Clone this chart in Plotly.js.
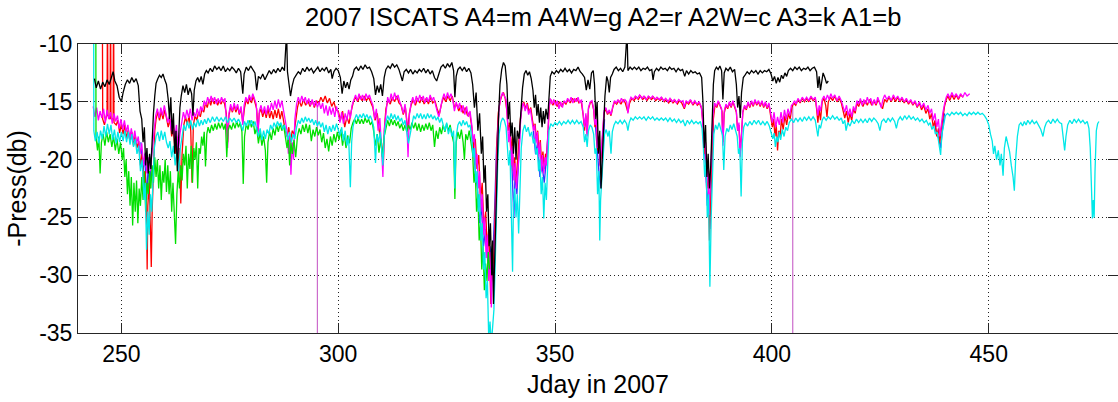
<!DOCTYPE html>
<html><head><meta charset="utf-8">
<script src="https://cdn.plot.ly/plotly-3.0.1.min.js"></script>
<style>html,body{margin:0;padding:0;background:#fff;overflow:hidden}#chart{width:1118px;height:402px}</style>
</head><body><div id="chart"></div>
<script>
const chartTitle = "2007 ISCATS A4=m A4W=g A2=r A2W=c A3=k A1=b";
const xLabel = "Jday in 2007";
const yLabel = "-Press(db)";
const xTicks = [250, 300, 350, 400, 450];
const yTicks = [-35, -30, -25, -20, -15, -10];

// A3 (black) [day, -press]
const A3 = [[243.8,-13.0],[244.2,-13.8],[244.7,-13.2],[245.2,-13.9],[245.7,-13.3],[246.2,-13.7],[246.7,-13.1],[247.2,-13.5],[247.7,-12.9],[248.1,-12.4],[248.5,-13.2],[249.0,-13.6],[249.5,-14.6],[250.0,-15.0],[250.4,-14.2],[250.9,-13.5],[251.4,-13.1],[251.9,-13.4],[252.4,-12.9],[252.9,-13.3],[253.4,-13.0],[253.9,-13.6],[254.3,-15.8],[254.7,-16.5],[255.0,-18.5],[255.3,-17.2],[255.6,-20.5],[255.9,-19.0],[256.2,-21.2],[256.5,-19.5],[256.8,-20.8],[257.1,-18.0],[257.4,-16.0],[257.7,-14.5],[258.0,-13.4],[258.4,-13.0],[258.8,-12.7],[259.2,-12.9],[259.6,-12.6],[260.0,-13.1],[260.4,-13.5],[260.8,-14.8],[261.1,-16.5],[261.4,-14.6],[261.7,-17.8],[262.0,-16.0],[262.3,-19.5],[262.6,-17.5],[262.9,-21.0],[263.2,-18.2],[263.5,-15.5],[263.8,-14.5],[264.2,-13.6],[264.6,-14.2],[265.0,-13.5],[265.4,-14.4],[265.8,-13.8],[266.2,-14.3],[266.5,-16.2],[266.8,-14.0],[267.2,-13.2],[267.6,-12.9],[268.0,-13.3],[268.4,-12.8],[268.8,-13.5],[269.2,-12.6],[269.6,-12.3],[270.0,-12.5],[270.5,-12.1],[271.0,-12.4],[271.5,-11.9],[272.0,-12.2],[272.5,-12.0],[273.0,-12.3],[273.5,-11.9],[274.0,-12.4],[274.5,-12.1],[275.0,-12.3],[275.5,-12.0],[276.0,-12.2],[276.5,-12.5],[277.0,-12.1],[277.5,-12.4],[278.0,-14.3],[278.3,-12.6],[278.8,-12.0],[279.3,-12.3],[279.8,-11.9],[280.3,-12.2],[280.8,-12.5],[281.2,-14.0],[281.6,-12.8],[282.1,-13.0],[282.6,-12.6],[283.1,-13.1],[283.6,-12.7],[284.1,-12.3],[284.6,-12.6],[285.1,-12.2],[285.6,-12.5],[286.1,-12.1],[286.6,-12.4],[287.1,-12.0],[287.6,-12.3],[288.1,-9.0],[288.3,-12.4],[288.7,-13.5],[289.0,-14.5],[289.4,-13.6],[289.8,-13.0],[290.3,-12.7],[290.8,-12.4],[291.3,-12.6],[291.8,-12.1],[292.3,-12.4],[292.8,-12.0],[293.3,-12.3],[293.8,-12.1],[294.3,-12.5],[294.8,-12.2],[295.3,-12.0],[295.8,-12.4],[296.3,-12.1],[296.8,-12.3],[297.3,-12.0],[297.8,-12.5],[298.3,-12.2],[298.6,-13.0],[299.0,-12.4],[299.5,-12.1],[300.0,-12.3],[300.5,-12.9],[300.9,-14.3],[301.3,-13.2],[301.7,-13.8],[302.1,-13.3],[302.5,-13.9],[302.9,-13.1],[303.3,-12.8],[303.7,-12.2],[304.2,-12.0],[304.7,-12.3],[305.2,-11.9],[305.7,-12.2],[306.2,-11.8],[306.7,-12.1],[307.2,-12.0],[307.7,-12.4],[308.2,-13.0],[308.6,-14.4],[309.0,-13.6],[309.4,-14.2],[309.8,-13.5],[310.2,-14.5],[310.6,-12.9],[311.0,-12.2],[311.5,-11.9],[312.0,-12.1],[312.5,-11.7],[313.0,-12.0],[313.5,-11.8],[314.0,-12.2],[314.4,-12.8],[314.8,-13.2],[315.2,-12.4],[315.7,-12.2],[316.2,-12.5],[316.7,-12.2],[317.2,-12.6],[317.7,-12.3],[318.2,-12.5],[318.7,-12.2],[319.2,-12.4],[319.7,-12.1],[320.2,-12.5],[320.7,-12.2],[321.2,-12.6],[321.7,-12.3],[322.2,-12.9],[322.7,-13.2],[323.2,-12.6],[323.7,-12.0],[324.2,-11.8],[324.7,-12.1],[325.2,-11.7],[325.7,-12.0],[326.2,-11.6],[326.6,-12.3],[326.9,-14.6],[327.2,-12.8],[327.6,-12.2],[328.1,-12.0],[328.6,-12.3],[329.1,-12.0],[329.6,-12.4],[330.1,-12.1],[330.6,-12.5],[331.0,-13.5],[331.4,-15.5],[331.8,-14.2],[332.2,-17.5],[332.6,-16.0],[333.0,-19.5],[333.3,-18.0],[333.6,-22.0],[333.9,-20.5],[334.2,-24.5],[334.5,-23.0],[334.8,-27.5],[335.1,-25.5],[335.4,-30.0],[335.6,-27.0],[335.8,-32.5],[336.1,-28.0],[336.4,-24.0],[336.7,-19.0],[337.0,-16.0],[337.3,-13.5],[337.7,-12.2],[338.1,-11.6],[338.5,-11.9],[338.9,-13.5],[339.2,-16.5],[339.5,-15.0],[339.8,-18.0],[340.1,-16.8],[340.4,-19.5],[340.7,-17.2],[341.0,-20.0],[341.3,-17.5],[341.7,-18.2],[342.1,-16.0],[342.5,-13.8],[342.9,-12.6],[343.3,-12.3],[343.7,-12.7],[344.1,-12.4],[344.5,-13.0],[344.9,-14.0],[345.2,-15.5],[345.5,-14.4],[345.8,-16.2],[346.1,-15.2],[346.4,-16.8],[346.7,-15.5],[347.0,-17.2],[347.3,-15.8],[347.6,-16.9],[347.9,-15.6],[348.3,-16.5],[348.6,-14.5],[348.9,-12.8],[349.3,-12.4],[349.8,-12.6],[350.3,-12.3],[350.8,-12.5],[351.3,-12.2],[351.8,-12.4],[352.3,-12.1],[352.8,-12.4],[353.3,-12.2],[353.8,-12.5],[354.3,-12.2],[354.8,-12.3],[355.3,-12.0],[355.8,-12.4],[356.3,-12.6],[356.8,-12.9],[357.2,-14.0],[357.6,-13.1],[358.0,-13.9],[358.4,-12.5],[358.8,-12.3],[359.1,-13.5],[359.4,-16.5],[359.7,-15.0],[360.0,-19.5],[360.3,-17.5],[360.6,-22.5],[360.9,-20.0],[361.2,-18.0],[361.5,-14.5],[361.9,-12.8],[362.2,-13.2],[362.5,-14.2],[362.8,-12.9],[363.2,-12.6],[363.6,-12.2],[364.1,-12.0],[364.6,-12.3],[365.1,-12.1],[365.6,-12.4],[366.1,-12.0],[366.6,-9.0],[366.8,-12.3],[367.3,-12.0],[367.8,-12.2],[368.3,-12.0],[368.8,-12.2],[369.3,-12.0],[369.8,-12.3],[370.3,-12.1],[370.8,-12.2],[371.3,-12.0],[371.8,-12.3],[372.3,-12.2],[372.6,-13.1],[372.9,-12.4],[373.4,-12.1],[373.9,-12.3],[374.4,-12.0],[374.9,-12.2],[375.4,-12.1],[375.9,-12.3],[376.4,-12.0],[376.9,-12.2],[377.4,-12.1],[377.9,-12.4],[378.4,-12.1],[378.9,-12.3],[379.4,-12.2],[379.9,-12.8],[380.3,-12.3],[380.8,-12.6],[381.3,-12.3],[381.8,-12.5],[382.3,-12.4],[382.8,-12.6],[383.3,-12.5],[383.8,-12.9],[384.1,-15.0],[384.4,-19.0],[384.7,-17.0],[385.0,-21.5],[385.3,-19.5],[385.6,-22.5],[385.9,-20.5],[386.2,-17.5],[386.5,-13.5],[386.8,-12.3],[387.2,-12.0],[387.6,-12.2],[388.0,-11.9],[388.4,-12.3],[388.7,-14.8],[389.0,-12.5],[389.4,-12.1],[389.9,-12.3],[390.4,-12.0],[390.9,-12.4],[391.4,-12.2],[391.8,-13.5],[392.1,-15.5],[392.4,-14.5],[392.7,-16.4],[393.0,-14.2],[393.4,-12.9],[393.8,-12.7],[394.3,-12.4],[394.8,-12.6],[395.3,-12.3],[395.8,-12.5],[396.3,-12.3],[396.8,-12.6],[397.3,-12.3],[397.8,-12.5],[398.3,-12.3],[398.8,-12.4],[399.3,-12.2],[399.8,-12.6],[400.2,-13.2],[400.6,-12.8],[401.0,-13.4],[401.4,-12.9],[401.8,-13.3],[402.2,-12.7],[402.6,-13.0],[403.0,-12.5],[403.4,-12.8],[403.8,-12.3],[404.3,-12.1],[404.8,-12.3],[405.3,-12.0],[405.8,-12.2],[406.3,-12.0],[406.8,-12.3],[407.3,-12.1],[407.8,-12.2],[408.3,-12.0],[408.8,-12.3],[409.3,-12.1],[409.8,-12.0],[410.3,-12.4],[410.6,-13.8],[410.9,-12.8],[411.2,-14.0],[411.5,-13.0],[411.8,-12.5],[412.2,-12.9],[412.6,-13.4],[413.0,-13.2]];

// A4 (magenta)
const A4 = [[243.5,-15.4],[243.9,-16.3],[244.3,-15.5],[244.7,-16.6],[245.1,-15.8],[245.5,-16.4],[245.9,-15.6],[246.3,-16.8],[246.7,-15.7],[247.1,-16.5],[247.5,-15.9],[247.9,-16.9],[248.3,-16.0],[248.7,-16.7],[249.1,-16.2],[249.5,-17.3],[249.9,-16.5],[250.3,-17.4],[250.7,-16.6],[251.1,-17.6],[251.5,-17.0],[251.9,-18.2],[252.3,-17.3],[252.7,-18.4],[253.1,-17.5],[253.5,-18.6],[253.9,-18.0],[254.3,-19.5],[254.7,-18.6],[255.1,-20.5],[255.5,-19.4],[255.9,-21.2],[256.3,-19.8],[256.7,-21.0],[257.1,-19.2],[257.5,-17.5],[257.9,-16.2],[258.3,-15.6],[258.7,-16.4],[259.1,-15.5],[259.5,-16.2],[259.9,-15.3],[260.3,-16.0],[260.7,-16.8],[261.1,-16.2],[261.5,-17.5],[261.9,-16.6],[262.3,-18.2],[262.7,-17.0],[263.1,-19.5],[263.5,-17.8],[263.9,-16.9],[264.3,-15.9],[264.7,-16.5],[265.1,-15.7],[265.5,-16.4],[265.9,-15.6],[266.3,-16.6],[266.7,-15.9],[267.1,-16.3],[267.5,-15.6],[267.9,-16.2],[268.3,-15.4],[268.7,-15.8],[269.1,-14.9],[269.5,-15.3],[269.9,-14.6],[270.3,-15.1],[270.7,-14.5],[271.1,-15.0],[271.5,-14.6],[271.9,-15.2],[272.3,-14.7],[272.7,-15.1],[273.1,-14.6],[273.5,-15.0],[273.9,-14.7],[274.2,-16.5],[274.5,-19.0],[274.8,-16.0],[275.2,-15.2],[275.6,-15.8],[276.0,-15.1],[276.4,-15.7],[276.8,-15.2],[277.2,-16.0],[277.6,-15.4],[278.0,-17.0],[278.3,-15.3],[278.7,-14.6],[279.1,-15.0],[279.5,-14.4],[279.9,-14.9],[280.3,-14.3],[280.7,-14.8],[281.1,-15.2],[281.5,-18.0],[281.8,-15.8],[282.2,-15.3],[282.6,-16.0],[283.0,-15.4],[283.4,-16.1],[283.8,-15.3],[284.2,-15.9],[284.6,-15.1],[285.0,-15.7],[285.4,-14.9],[285.8,-15.6],[286.2,-14.8],[286.6,-15.5],[287.0,-14.9],[287.4,-15.8],[287.8,-16.5],[288.2,-17.5],[288.5,-19.5],[288.8,-18.0],[289.1,-21.3],[289.4,-18.5],[289.7,-20.0],[290.0,-16.5],[290.4,-15.2],[290.8,-14.6],[291.2,-15.1],[291.6,-14.5],[292.0,-15.0],[292.4,-14.6],[292.8,-15.2],[293.2,-14.7],[293.6,-15.3],[294.0,-14.8],[294.4,-15.4],[294.8,-14.9],[295.2,-15.5],[295.6,-15.0],[296.0,-15.6],[296.4,-15.1],[296.8,-16.0],[297.2,-15.3],[297.6,-16.2],[298.0,-15.4],[298.4,-16.1],[298.8,-15.5],[299.2,-16.3],[299.6,-15.4],[300.0,-16.0],[300.4,-16.8],[300.8,-15.9],[301.2,-16.9],[301.6,-16.0],[302.0,-16.6],[302.4,-15.7],[302.8,-16.4],[303.2,-15.3],[303.6,-14.8],[304.0,-14.4],[304.4,-14.9],[304.8,-14.3],[305.2,-14.8],[305.6,-14.4],[306.0,-14.9],[306.4,-14.3],[306.8,-14.7],[307.2,-14.4],[307.6,-14.9],[308.0,-15.3],[308.4,-16.5],[308.8,-15.6],[309.2,-17.5],[309.6,-16.4],[310.0,-19.0],[310.3,-21.5],[310.6,-17.5],[311.0,-15.8],[311.4,-14.6],[311.8,-15.1],[312.2,-14.3],[312.6,-14.9],[313.0,-14.2],[313.4,-14.8],[313.8,-14.4],[314.2,-15.0],[314.6,-15.4],[315.0,-16.0],[315.4,-15.2],[315.8,-16.5],[316.1,-19.8],[316.4,-16.2],[316.8,-15.1],[317.2,-14.6],[317.6,-15.2],[318.0,-14.5],[318.4,-15.0],[318.8,-14.4],[319.2,-14.9],[319.6,-14.5],[320.0,-15.1],[320.4,-14.6],[320.8,-15.0],[321.2,-14.4],[321.6,-14.9],[322.0,-14.6],[322.4,-15.3],[322.8,-15.8],[323.2,-16.3],[323.6,-15.5],[324.0,-14.8],[324.4,-14.3],[324.8,-14.8],[325.2,-14.2],[325.6,-14.7],[326.0,-14.3],[326.4,-14.8],[326.8,-15.8],[327.2,-15.0],[327.6,-15.6],[328.0,-15.1],[328.4,-15.9],[328.8,-15.3],[329.2,-16.1],[329.6,-15.4],[330.0,-16.3],[330.4,-15.8],[330.8,-17.0],[331.1,-18.5],[331.4,-17.8],[331.7,-20.5],[332.0,-19.5],[332.3,-22.5],[332.6,-21.0],[332.9,-24.5],[333.2,-23.0],[333.5,-26.5],[333.8,-25.0],[334.1,-28.5],[334.4,-26.5],[334.7,-30.5],[335.0,-28.0],[335.3,-32.8],[335.6,-29.0],[335.9,-31.0],[336.2,-26.0],[336.5,-21.0],[336.8,-17.5],[337.1,-15.5],[337.5,-14.6],[337.9,-14.2],[338.3,-14.5],[338.7,-14.8],[339.0,-16.5],[339.3,-18.5],[339.6,-17.2],[339.9,-20.5],[340.2,-18.8],[340.5,-21.8],[340.8,-20.3],[341.1,-22.5],[341.4,-21.0],[341.7,-19.5],[342.0,-17.0],[342.3,-15.6],[342.7,-15.1],[343.1,-15.8],[343.5,-15.2],[343.9,-16.1],[344.3,-15.6],[344.7,-16.8],[345.0,-17.5],[345.3,-17.0],[345.6,-18.6],[345.9,-17.6],[346.2,-19.8],[346.5,-18.5],[346.8,-21.0],[347.1,-19.6],[347.4,-21.2],[347.7,-19.8],[348.0,-20.5],[348.3,-18.0],[348.6,-15.5],[348.9,-14.7],[349.3,-15.2],[349.7,-14.8],[350.1,-15.3],[350.5,-14.9],[350.9,-15.6],[351.3,-15.0],[351.7,-15.5],[352.1,-14.9],[352.5,-15.1],[352.9,-14.7],[353.3,-15.0],[353.7,-14.6],[354.1,-15.1],[354.5,-14.7],[354.9,-15.0],[355.3,-14.6],[355.7,-15.1],[356.1,-14.8],[356.5,-16.0],[356.8,-17.2],[357.1,-16.0],[357.4,-18.0],[357.7,-15.5],[358.1,-15.0],[358.5,-14.9],[358.9,-15.6],[359.2,-17.0],[359.5,-16.5],[359.8,-19.0],[360.1,-18.0],[360.4,-20.6],[360.7,-19.2],[361.0,-17.5],[361.3,-15.8],[361.7,-15.5],[362.1,-16.0],[362.5,-15.7],[362.9,-16.1],[363.3,-15.4],[363.7,-14.9],[364.1,-15.1],[364.5,-14.8],[364.9,-15.1],[365.3,-14.7],[365.7,-15.0],[366.1,-14.8],[366.5,-15.0],[366.8,-16.0],[367.1,-15.0],[367.5,-14.6],[368.0,-14.8],[368.5,-14.5],[369.0,-14.7],[369.5,-14.4],[370.0,-14.7],[370.5,-14.5],[371.0,-14.8],[371.5,-14.5],[372.0,-14.7],[372.5,-14.5],[373.0,-14.8],[373.5,-14.6],[374.0,-14.8],[374.5,-14.6],[375.0,-14.9],[375.5,-14.7],[376.0,-15.0],[376.5,-14.7],[377.0,-15.0],[377.5,-14.8],[378.0,-15.1],[378.5,-14.8],[379.0,-15.0],[379.5,-14.9],[379.8,-15.5],[380.2,-14.9],[380.7,-15.1],[381.2,-14.8],[381.7,-15.2],[382.2,-14.9],[382.7,-15.2],[383.2,-15.0],[383.7,-15.4],[384.0,-16.5],[384.3,-19.0],[384.6,-18.0],[384.9,-22.0],[385.2,-20.5],[385.5,-24.8],[385.8,-22.0],[386.1,-19.0],[386.4,-16.2],[386.8,-15.1],[387.2,-15.4],[387.6,-14.9],[388.0,-15.3],[388.4,-15.6],[388.7,-18.8],[389.0,-15.8],[389.4,-15.2],[389.8,-15.5],[390.2,-15.0],[390.6,-15.4],[391.0,-14.9],[391.4,-15.3],[391.8,-15.8],[392.1,-17.5],[392.4,-16.8],[392.7,-19.8],[393.0,-17.2],[393.3,-15.8],[393.7,-15.3],[394.1,-15.6],[394.5,-15.0],[394.9,-15.4],[395.3,-14.9],[395.7,-15.3],[396.1,-14.8],[396.5,-15.2],[396.9,-14.9],[397.3,-15.3],[397.7,-14.9],[398.1,-15.4],[398.5,-15.0],[398.9,-15.5],[399.3,-15.1],[399.7,-16.0],[400.1,-16.8],[400.5,-15.9],[400.9,-17.2],[401.3,-16.3],[401.7,-17.0],[402.1,-15.9],[402.5,-16.8],[402.9,-15.7],[403.3,-16.5],[403.7,-15.6],[404.1,-16.2],[404.5,-15.3],[404.85,-15.2],[405.2,-14.9],[405.6,-15.2],[406.0,-14.7],[406.5,-15.0],[407.0,-14.6],[407.5,-14.9],[408.0,-14.6],[408.5,-14.9],[409.0,-14.5],[409.5,-14.8],[410.0,-14.6],[410.3,-15.5],[410.6,-16.2],[410.9,-15.3],[411.2,-15.8],[411.6,-14.8],[412.0,-14.5],[412.4,-14.9],[412.8,-14.4],[413.2,-14.8],[413.6,-14.3],[414.0,-14.7],[414.5,-14.4],[415.0,-14.9],[415.5,-14.5],[416.0,-14.9],[416.4,-15.4],[416.8,-15.9],[417.2,-15.3],[417.6,-16.2],[418.0,-15.6],[418.4,-16.3],[418.8,-15.4],[419.2,-15.8],[419.6,-14.9],[420.0,-15.2],[420.4,-14.7],[420.8,-15.3],[421.2,-14.8],[421.6,-15.2],[422.0,-14.6],[422.4,-15.1],[422.8,-14.7],[423.2,-15.3],[423.6,-14.8],[424.0,-15.2],[424.4,-14.6],[424.8,-15.0],[425.2,-15.5],[425.6,-14.8],[426.0,-14.4],[426.5,-14.8],[427.0,-14.5],[427.5,-14.9],[428.0,-14.4],[428.5,-14.8],[429.0,-14.5],[429.5,-14.9],[430.0,-14.6],[430.5,-15.0],[431.0,-14.7],[431.5,-15.1],[432.0,-14.8],[432.5,-15.2],[433.0,-14.9],[433.5,-15.4],[434.0,-15.0],[434.5,-15.5],[435.0,-15.1],[435.5,-15.7],[436.0,-15.3],[436.4,-16.0],[436.8,-15.6],[437.2,-16.6],[437.6,-16.0],[438.0,-17.2],[438.4,-16.5],[438.7,-18.0],[439.0,-17.0],[439.4,-16.0],[439.8,-15.2],[440.2,-14.6],[440.6,-14.3],[441.0,-14.7],[441.5,-14.2],[442.0,-14.6],[442.5,-14.3],[443.0,-14.7],[443.5,-14.3],[444.0,-14.6],[444.5,-14.2],[445.0,-14.5],[445.6,-14.3]];

// A4 drop-outs (single samples falling far below the axis)
const A4drop = [[295.2,-15.5],[295.2,-60.0],null,[404.8,-15.3],[404.8,-60.0]];

// A2 (red)
const A2 = [[245.6,-5.0],[245.7,-16.5],[246.1,-17.0],[246.7,-16.0],[246.8,-5.0],[246.9,-16.2],[247.4,-16.5],[247.5,-5.0],[247.6,-16.4],[248.1,-16.6],[248.2,-5.0],[248.3,-16.8],[248.8,-17.0],[249.2,-16.6],[249.6,-17.7],[250.0,-16.9],[250.4,-17.8],[250.8,-17.0],[251.2,-18.2],[251.6,-17.4],[252.0,-18.5],[252.4,-17.6],[252.8,-18.8],[253.2,-17.9],[253.6,-19.0],[254.0,-18.4],[254.4,-20.5],[254.8,-19.5],[255.2,-22.5],[255.5,-21.0],[255.8,-25.0],[255.95,-29.5],[256.1,-24.0],[256.4,-22.0],[256.7,-26.0],[256.9,-29.3],[257.1,-24.5],[257.4,-20.0],[257.7,-17.5],[258.0,-16.5],[258.4,-15.9],[258.8,-16.6],[259.2,-15.8],[259.6,-16.5],[260.0,-15.7],[260.4,-16.4],[260.8,-17.2],[261.2,-16.5],[261.6,-18.0],[262.0,-17.2],[262.4,-19.5],[262.8,-18.0],[263.1,-21.0],[263.4,-19.0],[263.7,-23.8],[264.0,-19.5],[264.4,-17.0],[264.8,-16.3],[265.2,-17.0],[265.6,-16.2],[266.0,-17.5],[266.3,-22.0],[266.6,-17.0],[267.0,-16.2],[267.4,-16.6],[267.8,-15.9],[268.2,-16.3],[268.6,-15.6],[269.0,-15.9],[269.4,-15.1],[269.8,-15.5],[270.2,-14.8],[270.6,-15.3],[271.0,-14.7],[271.4,-15.2],[271.8,-14.8],[272.2,-15.3],[272.6,-14.9],[273.0,-15.2],[273.4,-14.8],[273.8,-15.2],[274.2,-16.0],[274.5,-18.5],[274.8,-16.2],[275.2,-15.4],[275.6,-15.9],[276.0,-15.3],[276.4,-15.9],[276.8,-15.4],[277.2,-16.1],[277.6,-15.6],[278.0,-16.8],[278.4,-15.5],[278.8,-14.8],[279.2,-15.2],[279.6,-14.6],[280.0,-15.1],[280.4,-14.5],[280.8,-15.0],[281.2,-15.6],[281.5,-17.5],[281.8,-16.0],[282.2,-15.6],[282.6,-16.3],[283.0,-15.7],[283.4,-16.4],[283.8,-15.6],[284.2,-16.4],[284.6,-15.8],[285.0,-16.5],[285.4,-15.7],[285.8,-16.4],[286.2,-15.6],[286.6,-16.5],[287.0,-15.8],[287.4,-16.8],[287.8,-17.5],[288.2,-18.0],[288.6,-17.2],[289.0,-18.5],[289.4,-17.5],[289.8,-17.8],[290.2,-16.5],[290.6,-15.5],[291.0,-14.9],[291.5,-15.4],[292.0,-14.8],[292.5,-15.3],[293.0,-14.9],[293.5,-15.4],[294.0,-14.9],[294.5,-15.5],[295.0,-14.9],[295.5,-15.2],[296.0,-14.6],[296.5,-15.0],[297.0,-14.5],[297.5,-15.1],[298.0,-14.7],[298.5,-15.4],[299.0,-15.0],[299.5,-15.7],[300.0,-15.8],[300.5,-16.6],[301.0,-15.8],[301.5,-17.2],[302.0,-16.3],[302.5,-16.9],[303.0,-15.8],[303.5,-15.0],[304.0,-14.6],[304.5,-15.0],[305.0,-14.5],[305.5,-14.9],[306.0,-14.5],[306.5,-14.9],[307.0,-14.6],[307.5,-15.0],[308.0,-15.5],[308.5,-16.6],[309.0,-16.0],[309.5,-17.6],[310.0,-18.6],[310.4,-20.5],[310.7,-17.0],[311.0,-15.6],[311.5,-14.8],[312.0,-15.2],[312.5,-14.6],[313.0,-15.0],[313.5,-14.5],[314.0,-15.1],[314.5,-15.3],[315.0,-16.1],[315.5,-15.5],[316.0,-17.5],[316.4,-16.0],[316.8,-15.3],[317.3,-14.8],[317.8,-15.3],[318.3,-14.7],[318.8,-15.1],[319.3,-14.6],[319.8,-15.2],[320.3,-14.7],[320.8,-15.2],[321.3,-14.6],[321.8,-15.1],[322.3,-14.9],[322.8,-15.6],[323.3,-16.1],[323.8,-15.2],[324.3,-14.6],[324.8,-15.0],[325.3,-14.5],[325.8,-14.9],[326.3,-14.5],[326.8,-15.5],[327.3,-15.2],[327.8,-15.8],[328.3,-15.3],[328.8,-16.0],[329.3,-15.5],[329.8,-16.2],[330.3,-15.9],[330.8,-17.2],[331.2,-19.0],[331.6,-18.2],[332.0,-20.8],[332.4,-19.6],[332.8,-23.5],[333.2,-22.0],[333.6,-26.0],[334.0,-24.5],[334.4,-28.0],[334.7,-26.0],[335.0,-31.5],[335.2,-32.5],[335.4,-28.5],[335.7,-30.0],[336.0,-27.0],[336.3,-22.0],[336.6,-18.5],[336.9,-16.0],[337.3,-15.0],[337.7,-14.5],[338.1,-14.2],[338.5,-14.7],[338.9,-15.8],[339.2,-17.5],[339.5,-16.8],[339.8,-19.5],[340.1,-18.0],[340.4,-21.0],[340.7,-19.8],[341.0,-22.0],[341.3,-20.5],[341.6,-19.0],[342.0,-16.5],[342.4,-15.4],[342.8,-15.0],[343.2,-15.6],[343.6,-15.1],[344.0,-15.9],[344.4,-15.5],[344.8,-16.6],[345.1,-17.3],[345.4,-16.9],[345.7,-18.4],[346.0,-17.5],[346.3,-19.5],[346.6,-18.3],[346.9,-20.5],[347.2,-19.3],[347.5,-20.8],[347.8,-19.5],[348.1,-19.8],[348.4,-17.5],[348.7,-15.3],[349.0,-14.8],[349.5,-15.3],[350.0,-14.9],[350.5,-15.4],[351.0,-15.0],[351.5,-15.4],[352.0,-15.0],[352.5,-15.2],[353.0,-14.8],[353.5,-15.1],[354.0,-14.7],[354.5,-15.0],[355.0,-14.7],[355.5,-15.1],[356.0,-14.9],[356.5,-16.2],[356.8,-17.5],[357.1,-16.2],[357.4,-17.8],[357.7,-15.6],[358.1,-15.1],[358.5,-15.0],[358.9,-15.7],[359.2,-17.2],[359.5,-16.7],[359.8,-19.2],[360.1,-18.2],[360.4,-20.5],[360.7,-19.4],[361.0,-17.8],[361.3,-16.0],[361.7,-15.6],[362.1,-16.1],[362.5,-15.8],[362.9,-16.2],[363.3,-15.5],[363.7,-15.0],[364.2,-15.2],[364.7,-14.9],[365.2,-15.2],[365.7,-14.8],[366.2,-15.1],[366.8,-15.9],[367.2,-15.1],[367.7,-14.7],[368.2,-14.9],[368.7,-14.6],[369.2,-14.8],[369.7,-14.5],[370.2,-14.8],[370.7,-14.6],[371.2,-14.9],[371.7,-14.6],[372.2,-14.8],[372.7,-14.6],[373.2,-14.9],[373.7,-14.7],[374.2,-14.9],[374.7,-14.7],[375.2,-15.0],[375.7,-14.8],[376.2,-15.1],[376.7,-14.8],[377.2,-15.1],[377.7,-14.9],[378.2,-15.2],[378.7,-14.9],[379.2,-15.1],[379.8,-15.6],[380.3,-15.0],[380.8,-15.2],[381.3,-14.9],[381.8,-15.3],[382.3,-15.0],[382.8,-15.3],[383.3,-15.1],[383.8,-15.6],[384.1,-17.0],[384.4,-19.5],[384.7,-18.5],[385.0,-22.5],[385.3,-21.0],[385.6,-27.0],[385.9,-23.0],[386.2,-19.5],[386.5,-16.5],[386.9,-15.2],[387.3,-15.5],[387.7,-15.0],[388.1,-15.4],[388.5,-15.8],[388.7,-18.5],[389.0,-16.0],[389.4,-15.3],[389.8,-15.6],[390.2,-15.1],[390.6,-15.5],[391.0,-15.0],[391.4,-15.4],[391.8,-15.9],[392.1,-17.5],[392.4,-17.0],[392.7,-19.5],[393.0,-17.4],[393.3,-15.9],[393.7,-15.4],[394.1,-15.7],[394.5,-15.1],[394.9,-15.5],[395.3,-15.0],[395.7,-15.4],[396.1,-14.9],[396.5,-15.3],[396.9,-15.0],[397.3,-15.4],[397.7,-15.0],[398.1,-15.5],[398.5,-15.1],[398.9,-15.6],[399.3,-15.2],[399.7,-16.2],[400.1,-17.2],[400.4,-16.5],[400.7,-18.0],[401.0,-17.0],[401.3,-19.2],[401.6,-17.5],[401.9,-18.0],[402.2,-16.5],[402.6,-17.4],[403.0,-16.2],[403.4,-17.0],[403.8,-16.0],[404.2,-16.5],[404.6,-15.5],[405.0,-15.1],[405.5,-15.3],[406.0,-14.8],[406.5,-15.1],[407.0,-14.7],[407.5,-15.0],[408.0,-14.7],[408.5,-15.0],[409.0,-14.6],[409.5,-14.9],[410.0,-14.7],[410.3,-15.6],[410.6,-16.8],[410.9,-15.6],[411.2,-16.6],[411.6,-15.0],[412.0,-14.7],[412.4,-15.3],[412.7,-16.3],[413.0,-15.0],[413.5,-14.6],[414.0,-14.9],[414.5,-14.5],[415.0,-15.0],[415.5,-14.7],[416.0,-15.1],[416.4,-15.7],[416.8,-16.4],[417.2,-15.8],[417.6,-16.8],[418.0,-16.0],[418.4,-16.6],[418.8,-15.6],[419.2,-16.0],[419.6,-15.1],[420.0,-15.4],[420.5,-14.9],[421.0,-15.4],[421.5,-14.9],[422.0,-15.3],[422.5,-14.8],[423.0,-15.3],[423.5,-14.9],[424.0,-15.3],[424.5,-14.8],[425.0,-15.2],[425.5,-15.6],[426.0,-14.8],[426.5,-15.0],[427.0,-14.6],[427.5,-15.0],[428.0,-14.6],[428.5,-15.0],[429.0,-14.6],[429.5,-15.0],[430.0,-14.7],[430.5,-15.1],[431.0,-14.8],[431.5,-15.2],[432.0,-14.9],[432.5,-15.3],[433.0,-15.0],[433.5,-15.5],[434.0,-15.1],[434.5,-15.7],[435.0,-15.3],[435.5,-16.0],[436.0,-15.6],[436.4,-16.5],[436.8,-16.0],[437.2,-17.2],[437.6,-16.6],[438.0,-18.0],[438.4,-17.3],[438.7,-18.6],[439.0,-17.5],[439.4,-16.3],[439.8,-15.4],[440.2,-14.8],[440.6,-14.5],[441.0,-14.9],[441.5,-14.4],[442.0,-14.8],[442.5,-14.4],[443.0,-14.8],[443.5,-14.4],[444.1,-14.6]];

// A2W (cyan)
const A2W = [[243.6,-5.0],[243.65,-17.5],[244.0,-18.4],[244.4,-17.6],[244.8,-18.6],[245.2,-17.5],[245.6,-18.2],[246.0,-17.1],[246.4,-18.0],[246.8,-16.9],[247.2,-17.8],[247.6,-17.0],[248.0,-18.3],[248.4,-17.4],[248.8,-18.6],[249.2,-17.6],[249.6,-18.5],[250.0,-17.6],[250.4,-18.4],[250.8,-17.5],[251.2,-18.5],[251.6,-17.6],[252.0,-18.7],[252.4,-17.8],[252.8,-18.9],[253.2,-18.2],[253.6,-19.5],[254.0,-18.8],[254.4,-21.0],[254.8,-20.0],[255.2,-23.5],[255.5,-22.0],[255.8,-27.8],[256.1,-24.5],[256.4,-26.5],[256.7,-23.0],[257.0,-24.5],[257.3,-21.0],[257.6,-19.0],[258.0,-18.0],[258.4,-17.6],[258.8,-18.4],[259.2,-17.5],[259.6,-18.3],[260.0,-17.6],[260.4,-18.5],[260.8,-19.0],[261.2,-18.4],[261.6,-19.8],[262.0,-18.8],[262.4,-20.5],[262.8,-19.2],[263.2,-21.0],[263.6,-19.0],[264.0,-18.0],[264.4,-17.0],[264.8,-17.5],[265.2,-16.7],[265.6,-17.3],[266.0,-16.6],[266.4,-17.4],[266.8,-16.8],[267.2,-17.2],[267.6,-16.5],[268.0,-17.1],[268.4,-16.6],[268.8,-17.0],[269.2,-16.5],[269.6,-16.9],[270.0,-16.4],[270.5,-16.8],[271.0,-16.3],[271.5,-16.7],[272.0,-16.3],[272.5,-16.7],[273.0,-16.4],[273.5,-16.7],[274.0,-16.3],[274.5,-16.8],[275.0,-16.4],[275.5,-16.7],[276.0,-16.4],[276.5,-16.8],[277.0,-16.5],[277.5,-16.9],[278.0,-17.5],[278.4,-16.7],[278.8,-17.1],[279.2,-16.6],[279.6,-17.0],[280.0,-16.6],[280.4,-17.1],[280.8,-16.7],[281.2,-17.4],[281.6,-18.0],[282.0,-17.3],[282.4,-18.3],[282.8,-17.5],[283.2,-18.2],[283.6,-17.4],[284.0,-17.8],[284.4,-17.0],[284.8,-17.4],[285.2,-16.8],[285.6,-17.2],[286.0,-16.7],[286.4,-17.1],[286.8,-16.8],[287.2,-17.4],[287.6,-17.0],[288.0,-17.8],[288.4,-18.3],[288.8,-17.6],[289.2,-18.5],[289.6,-17.8],[290.0,-18.2],[290.4,-17.2],[290.8,-16.6],[291.2,-16.9],[291.6,-16.4],[292.0,-16.8],[292.4,-16.3],[292.8,-16.7],[293.2,-16.4],[293.6,-16.8],[294.0,-16.5],[294.4,-17.0],[294.8,-16.6],[295.2,-17.1],[295.6,-16.7],[296.0,-17.2],[296.4,-16.8],[296.8,-17.6],[297.2,-17.0],[297.6,-17.8],[298.0,-17.1],[298.4,-17.6],[298.8,-17.0],[299.2,-17.5],[299.6,-16.9],[300.0,-17.4],[300.4,-17.9],[300.8,-17.2],[301.2,-18.4],[301.6,-17.5],[302.0,-18.8],[302.4,-18.0],[302.8,-22.4],[303.1,-18.5],[303.4,-17.2],[303.8,-16.5],[304.2,-16.1],[304.6,-16.5],[305.0,-16.1],[305.4,-16.4],[305.8,-16.0],[306.2,-16.4],[306.6,-16.1],[307.0,-16.5],[307.4,-16.2],[307.8,-16.6],[308.2,-17.2],[308.6,-20.3],[308.9,-17.8],[309.3,-18.5],[309.7,-17.6],[310.0,-19.0],[310.3,-20.5],[310.6,-18.0],[311.0,-16.8],[311.4,-16.2],[311.8,-16.6],[312.2,-16.0],[312.6,-16.5],[313.0,-16.1],[313.4,-16.6],[313.8,-16.2],[314.2,-16.7],[314.6,-16.4],[315.0,-17.0],[315.4,-16.6],[315.8,-17.5],[316.2,-18.6],[316.6,-17.8],[317.0,-16.8],[317.4,-16.2],[317.8,-16.5],[318.2,-16.0],[318.6,-16.4],[319.0,-16.0],[319.4,-16.5],[319.8,-16.1],[320.2,-16.5],[320.6,-16.0],[321.0,-16.4],[321.4,-16.1],[321.8,-16.5],[322.2,-16.2],[322.6,-16.6],[323.0,-16.3],[323.4,-16.8],[323.8,-16.4],[324.2,-17.0],[324.6,-17.5],[325.0,-16.8],[325.4,-17.8],[325.8,-17.2],[326.2,-18.0],[326.6,-17.5],[326.9,-22.5],[327.2,-18.0],[327.6,-17.0],[328.0,-16.7],[328.4,-17.1],[328.8,-16.6],[329.2,-17.0],[329.6,-16.7],[330.0,-17.2],[330.4,-17.0],[330.8,-18.2],[331.1,-19.8],[331.4,-19.0],[331.7,-22.0],[332.0,-21.0],[332.3,-24.5],[332.6,-23.0],[332.9,-27.0],[333.2,-25.5],[333.5,-29.5],[333.8,-28.0],[334.1,-32.0],[334.4,-30.5],[334.7,-35.5],[335.0,-34.0],[335.3,-36.0],[335.6,-34.5],[335.9,-33.0],[336.2,-29.0],[336.5,-24.0],[336.8,-20.0],[337.1,-17.8],[337.5,-16.8],[337.9,-16.4],[338.3,-16.6],[338.7,-17.2],[339.0,-18.5],[339.3,-20.5],[339.6,-19.2],[339.9,-23.5],[340.2,-29.7],[340.4,-24.0],[340.7,-22.5],[341.0,-25.0],[341.3,-23.0],[341.6,-26.4],[341.9,-22.0],[342.2,-19.0],[342.6,-17.5],[343.0,-17.0],[343.4,-17.6],[343.8,-17.2],[344.2,-18.0],[344.6,-17.6],[345.0,-18.6],[345.3,-18.2],[345.6,-19.6],[345.9,-19.0],[346.2,-21.0],[346.5,-20.0],[346.8,-23.0],[347.1,-21.5],[347.4,-25.1],[347.7,-22.0],[348.0,-23.5],[348.3,-20.0],[348.6,-17.5],[349.0,-16.9],[349.5,-17.1],[350.0,-16.8],[350.5,-17.0],[351.0,-16.7],[351.5,-17.0],[352.0,-16.7],[352.5,-16.9],[353.0,-16.6],[353.5,-16.9],[354.0,-16.6],[354.5,-16.9],[355.0,-16.6],[355.5,-16.9],[356.0,-16.7],[356.5,-17.2],[356.8,-18.5],[357.1,-17.8],[357.4,-18.9],[357.7,-17.5],[358.1,-17.0],[358.5,-17.2],[358.9,-17.8],[359.2,-19.5],[359.5,-19.0],[359.8,-23.0],[360.1,-21.0],[360.3,-27.0],[360.5,-23.5],[360.8,-21.5],[361.1,-19.5],[361.4,-17.8],[361.8,-17.4],[362.2,-18.0],[362.5,-17.5],[362.9,-19.5],[363.2,-17.6],[363.6,-17.0],[364.0,-16.7],[364.5,-16.9],[365.0,-16.6],[365.5,-16.9],[366.0,-16.6],[366.5,-16.9],[366.8,-17.5],[367.1,-16.8],[367.5,-16.4],[368.0,-16.6],[368.5,-16.3],[369.0,-16.5],[369.5,-16.3],[370.0,-16.5],[370.5,-16.3],[371.0,-16.6],[371.5,-16.3],[372.0,-16.5],[372.5,-16.3],[373.0,-16.6],[373.5,-16.4],[374.0,-16.6],[374.5,-16.4],[375.0,-16.6],[375.5,-16.4],[376.0,-16.7],[376.5,-16.4],[377.0,-16.7],[377.5,-16.5],[378.0,-16.8],[378.5,-16.5],[379.0,-16.8],[379.5,-16.6],[380.0,-17.1],[380.5,-16.6],[381.0,-16.9],[381.5,-16.6],[382.0,-16.9],[382.5,-16.7],[383.0,-16.9],[383.5,-16.7],[383.9,-17.3],[384.2,-19.0],[384.5,-21.5],[384.8,-20.0],[385.1,-25.0],[385.4,-23.0],[385.7,-31.0],[386.0,-25.0],[386.3,-20.5],[386.6,-17.8],[387.0,-17.0],[387.4,-17.4],[387.8,-16.8],[388.2,-17.3],[388.6,-17.9],[388.9,-20.9],[389.2,-18.0],[389.6,-17.3],[390.0,-17.6],[390.4,-17.0],[390.8,-17.4],[391.2,-16.9],[391.6,-17.5],[392.0,-18.0],[392.3,-19.5],[392.6,-19.0],[392.9,-23.2],[393.2,-18.5],[393.5,-17.2],[393.9,-16.8],[394.4,-17.1],[394.9,-16.7],[395.4,-17.0],[395.9,-16.6],[396.4,-16.9],[396.9,-16.6],[397.4,-17.0],[397.9,-16.7],[398.4,-17.0],[398.9,-16.7],[399.4,-17.1],[399.8,-17.6],[400.2,-18.2],[400.5,-17.7],[400.8,-18.9],[401.1,-18.0],[401.4,-18.5],[401.7,-17.6],[402.0,-18.3],[402.4,-17.4],[402.8,-18.0],[403.2,-17.2],[403.6,-17.5],[404.0,-16.8],[404.5,-16.5],[405.0,-16.8],[405.5,-16.4],[406.0,-16.7],[406.5,-16.4],[407.0,-16.7],[407.5,-16.3],[408.0,-16.6],[408.5,-16.3],[409.0,-16.6],[409.5,-16.3],[410.0,-16.6],[410.3,-17.2],[410.6,-18.0],[410.9,-17.0],[411.2,-17.3],[411.6,-16.6],[412.0,-16.3],[412.5,-16.6],[413.0,-16.3],[413.5,-16.5],[414.0,-16.2],[414.5,-16.5],[415.0,-16.3],[415.5,-16.6],[416.0,-16.4],[416.4,-16.9],[416.8,-16.6],[417.1,-17.5],[417.5,-16.8],[418.0,-17.1],[418.5,-16.6],[419.0,-16.9],[419.5,-16.5],[420.0,-16.8],[420.5,-16.5],[421.0,-16.8],[421.5,-16.5],[422.0,-16.8],[422.5,-16.4],[423.0,-16.7],[423.5,-16.4],[424.0,-16.6],[424.5,-16.9],[424.9,-17.5],[425.3,-16.7],[425.8,-16.5],[426.3,-16.8],[426.8,-16.4],[427.3,-16.7],[427.8,-16.4],[428.3,-16.7],[428.7,-17.3],[429.1,-16.6],[429.6,-16.3],[430.1,-16.6],[430.6,-16.2],[431.1,-16.5],[431.6,-16.2],[432.1,-16.5],[432.6,-16.3],[433.1,-16.6],[433.6,-16.4],[434.1,-16.7],[434.6,-16.5],[435.1,-16.8],[435.6,-16.6],[436.1,-17.0],[436.5,-16.8],[436.9,-17.4],[437.3,-17.1],[437.7,-17.8],[438.1,-17.6],[438.5,-18.6],[438.9,-19.6],[439.2,-17.8],[439.6,-16.8],[440.0,-16.2],[440.5,-16.0],[441.0,-16.2],[441.5,-15.9],[442.0,-16.1],[442.5,-15.9],[443.0,-16.1],[443.5,-15.9],[444.0,-16.2],[444.5,-16.0],[445.0,-16.2],[445.5,-15.9],[446.0,-16.1],[446.5,-15.9],[447.0,-16.1],[447.5,-15.9],[448.0,-16.1],[448.5,-16.0],[449.0,-16.2],[449.5,-16.5],[450.0,-17.0],[450.4,-17.8],[450.8,-18.4],[451.1,-19.5],[451.4,-18.8],[451.8,-20.0],[452.2,-19.2],[452.6,-20.5],[452.9,-19.5],[453.3,-21.4],[453.6,-19.0],[454.0,-18.0],[454.4,-18.6],[454.8,-19.3],[455.2,-20.5],[455.6,-21.5],[455.9,-22.7],[456.2,-20.0],[456.6,-18.0],[457.0,-17.0],[457.4,-16.8],[457.8,-17.1],[458.2,-16.7],[458.6,-17.0],[459.0,-16.6],[459.5,-16.9],[460.0,-16.6],[460.5,-16.9],[461.0,-16.7],[461.5,-17.0],[462.0,-17.4],[462.5,-18.0],[462.9,-17.2],[463.3,-16.8],[463.8,-16.6],[464.3,-16.9],[464.8,-16.5],[465.3,-16.8],[465.8,-16.5],[466.3,-16.8],[466.8,-16.9],[467.2,-18.2],[467.5,-19.2],[467.8,-18.0],[468.2,-17.0],[468.7,-16.6],[469.2,-16.9],[469.7,-16.5],[470.2,-16.8],[470.7,-16.5],[471.2,-16.8],[471.7,-16.6],[472.2,-16.9],[472.7,-16.7],[473.1,-17.3],[473.4,-19.0],[473.7,-22.0],[473.9,-25.1],[474.1,-23.5],[474.3,-25.0],[474.5,-21.0],[474.8,-17.5],[475.1,-16.9],[475.4,-16.7]];

// A4W (green)
const A4W = [[244.1,-5.0],[244.15,-18.0],[244.5,-19.2],[244.8,-18.0],[245.1,-21.2],[245.4,-18.5],[245.8,-17.8],[246.2,-18.8],[246.6,-17.6],[247.0,-18.5],[247.4,-17.8],[247.8,-18.9],[248.2,-18.0],[248.6,-19.2],[249.0,-18.2],[249.4,-19.5],[249.8,-18.5],[250.2,-20.0],[250.5,-19.0],[250.8,-21.5],[251.1,-20.0],[251.4,-23.0],[251.7,-21.0],[252.0,-24.0],[252.3,-21.5],[252.6,-25.7],[252.9,-22.0],[253.2,-24.5],[253.5,-21.8],[253.8,-25.5],[254.1,-22.5],[254.4,-24.0],[254.7,-21.5],[255.0,-23.5],[255.3,-21.0],[255.6,-24.5],[255.9,-22.0],[256.2,-23.0],[256.5,-21.0],[256.8,-22.5],[257.1,-20.5],[257.4,-22.0],[257.7,-19.8],[258.0,-21.5],[258.3,-20.0],[258.6,-22.5],[258.9,-20.5],[259.2,-23.5],[259.5,-21.0],[259.8,-22.0],[260.1,-20.0],[260.4,-22.8],[260.7,-20.5],[261.0,-23.0],[261.3,-21.0],[261.6,-24.5],[261.9,-22.0],[262.2,-25.0],[262.5,-27.3],[262.8,-23.0],[263.1,-21.0],[263.4,-22.5],[263.7,-20.5],[264.0,-21.8],[264.3,-19.5],[264.6,-20.5],[264.9,-18.8],[265.2,-22.5],[265.5,-19.5],[265.8,-20.8],[266.1,-18.8],[266.4,-22.0],[266.7,-19.0],[267.0,-20.0],[267.3,-18.5],[267.6,-22.5],[267.9,-19.0],[268.2,-19.5],[268.5,-18.0],[268.8,-18.8],[269.1,-17.6],[269.4,-20.6],[269.7,-17.8],[270.0,-17.2],[270.4,-17.7],[270.8,-17.0],[271.2,-17.5],[271.6,-16.9],[272.0,-17.4],[272.4,-16.8],[272.8,-17.3],[273.2,-16.8],[273.6,-17.4],[274.0,-16.9],[274.3,-19.8],[274.6,-17.5],[275.0,-17.0],[275.4,-17.4],[275.8,-16.8],[276.2,-17.3],[276.6,-16.7],[277.0,-17.2],[277.4,-16.8],[277.8,-17.6],[278.1,-22.1],[278.4,-18.0],[278.8,-16.9],[279.2,-17.4],[279.6,-16.6],[280.0,-17.2],[280.4,-16.7],[280.8,-17.8],[281.2,-17.2],[281.6,-18.6],[282.0,-17.6],[282.4,-18.8],[282.8,-18.0],[283.2,-19.2],[283.5,-22.0],[283.8,-18.5],[284.2,-17.6],[284.6,-18.3],[285.0,-17.3],[285.4,-17.9],[285.8,-17.0],[286.2,-17.6],[286.6,-16.9],[287.0,-17.5],[287.4,-17.0],[287.8,-18.0],[288.2,-19.0],[288.5,-18.0],[288.8,-20.5],[289.1,-18.5],[289.4,-19.5],[289.8,-18.3],[290.2,-19.8],[290.6,-18.0],[291.0,-17.3],[291.4,-17.8],[291.8,-17.0],[292.2,-17.6],[292.6,-16.9],[293.0,-17.7],[293.4,-17.0],[293.8,-18.4],[294.2,-17.4],[294.6,-18.0],[295.0,-17.2],[295.4,-17.9],[295.8,-17.4],[296.2,-18.5],[296.6,-17.7],[297.0,-19.0],[297.4,-18.2],[297.8,-19.3],[298.2,-18.0],[298.6,-18.8],[299.0,-17.8],[299.4,-18.5],[299.8,-17.6],[300.2,-18.3],[300.6,-17.4],[301.0,-18.8],[301.4,-17.8],[301.8,-19.0],[302.2,-17.9],[302.6,-18.6],[303.0,-17.3],[303.4,-16.8],[303.8,-16.5],[304.2,-16.9],[304.6,-16.4],[305.0,-16.9],[305.4,-16.5],[305.8,-16.9],[306.2,-16.4],[306.6,-16.8],[307.0,-16.5],[307.4,-17.0],[307.8,-16.7],[308.2,-17.6],[308.6,-18.8],[309.0,-17.8],[309.4,-19.4],[309.8,-18.2],[310.2,-19.8],[310.6,-18.0],[311.0,-17.2],[311.4,-16.6],[311.8,-17.1],[312.2,-16.5],[312.6,-17.0],[313.0,-16.6],[313.4,-17.1],[313.8,-16.7],[314.2,-17.3],[314.6,-16.9],[315.0,-17.5],[315.4,-17.0],[315.8,-17.6],[316.2,-17.0],[316.6,-17.4],[317.0,-16.8],[317.4,-17.3],[317.8,-16.8],[318.2,-17.5],[318.6,-16.9],[319.0,-17.6],[319.4,-17.0],[319.8,-17.5],[320.2,-16.9],[320.6,-17.4],[321.0,-16.8],[321.4,-17.5],[321.8,-17.0],[322.2,-18.9],[322.6,-17.5],[323.0,-18.2],[323.4,-17.2],[323.8,-17.8],[324.2,-17.0],[324.6,-17.6],[325.0,-16.9],[325.4,-17.5],[325.8,-17.0],[326.2,-17.8],[326.6,-18.5],[326.9,-23.4],[327.2,-18.5],[327.6,-17.6],[328.0,-18.2],[328.4,-17.4],[328.8,-18.5],[329.1,-20.0],[329.4,-17.8],[329.8,-18.3],[330.2,-17.5],[330.6,-18.5],[331.0,-19.5],[331.3,-22.0],[331.6,-21.0],[331.9,-24.5],[332.2,-23.0],[332.5,-27.0],[332.8,-25.5],[333.1,-29.5],[333.4,-27.5],[333.7,-31.3],[334.0,-29.0],[334.3,-30.5],[334.6,-28.0],[334.9,-29.5]];

// A1 (blue) - only visible in the dips; null separates segments
const A1 = [[254.5,-18.5],[255.0,-21.0],[255.4,-19.5],[255.8,-23.5],[256.2,-20.5],[256.6,-22.5],[257.0,-19.0],null,[331.0,-18.0],[331.6,-21.0],[332.1,-22.5],[332.6,-25.5],[333.0,-24.0],[333.5,-27.5],[334.0,-26.0],[334.5,-29.0],[335.0,-27.5],[335.5,-30.0],[336.0,-25.0],[336.5,-19.0],[337.0,-16.0],null,[339.5,-17.0],[340.0,-20.0],[340.5,-25.0],[340.8,-21.0],[341.2,-23.0],[341.6,-20.0],[342.0,-17.0],null,[345.0,-17.5],[345.5,-19.5],[346.0,-18.5],[346.5,-21.5],[347.0,-20.5],[347.5,-22.0],[348.0,-20.0],[348.4,-17.5],null,[359.3,-17.0],[359.8,-20.0],[360.2,-21.5],[360.6,-22.5],[361.0,-19.0],[361.4,-16.5],null,[384.2,-17.5],[384.7,-20.5],[385.1,-24.0],[385.4,-22.5],[385.7,-26.0],[386.1,-20.5],[386.5,-16.5],null,[437.5,-16.8],[438.0,-17.8],[438.5,-18.2],[438.9,-19.0],[439.3,-17.5],[439.8,-16.0]];

const FONT = "Liberation Sans, Arial, Helvetica, sans-serif";
function mk(pairs, color, w) {
  return {
    x: pairs.map(p => p ? p[0] : null),
    y: pairs.map(p => p ? p[1] : null),
    type: 'scatter', mode: 'lines', connectgaps: false,
    line: {color: color, width: w || 1.3}, hoverinfo: 'skip', showlegend: false
  };
}
const traces = [
  mk(A4drop, '#cc6ccc', 1.2),
  mk(A1, '#3030ff'),
  mk(A2, '#ff0000'),
  mk(A4, '#ff00ff'),
  mk(A4W, '#00e000'),
  mk(A2W, '#00e8e8'),
  mk(A3, '#000000')
];
const axisCommon = {
  showline: true, mirror: 'ticks', linecolor: '#262626', linewidth: 1,
  ticks: 'inside', ticklen: 10, tickcolor: '#262626', tickwidth: 1,
  showgrid: true, gridcolor: '#222', gridwidth: 1, griddash: '1px,3px',
  zeroline: false, tickfont: {family: FONT, size: 23, color: '#000'}
};
const layout = {
  width: 1118, height: 402,
  margin: {l: 78, r: 0, t: 44, b: 69, pad: 0},
  paper_bgcolor: '#fff', plot_bgcolor: '#fff',
  title: {text: chartTitle, font: {family: FONT, size: 25.5, color: '#000'},
          x: 0.505, xanchor: 'center', y: 0.957, yanchor: 'middle', xref: 'paper', yref: 'container'},
  xaxis: Object.assign({}, axisCommon, {
    range: [240, 479.8], tickvals: xTicks, ticktext: xTicks.map(String),
    title: {text: xLabel, font: {family: FONT, size: 25, color: '#000'}, standoff: 9}
  }),
  yaxis: Object.assign({}, axisCommon, {
    range: [-35, -10], tickvals: yTicks, ticktext: yTicks.map(String),
    title: {text: yLabel, font: {family: FONT, size: 25, color: '#000'}, standoff: 5}
  }),
  showlegend: false
};
Plotly.newPlot('chart', traces, layout, {staticPlot: true, displayModeBar: false});
</script>
</body></html>
